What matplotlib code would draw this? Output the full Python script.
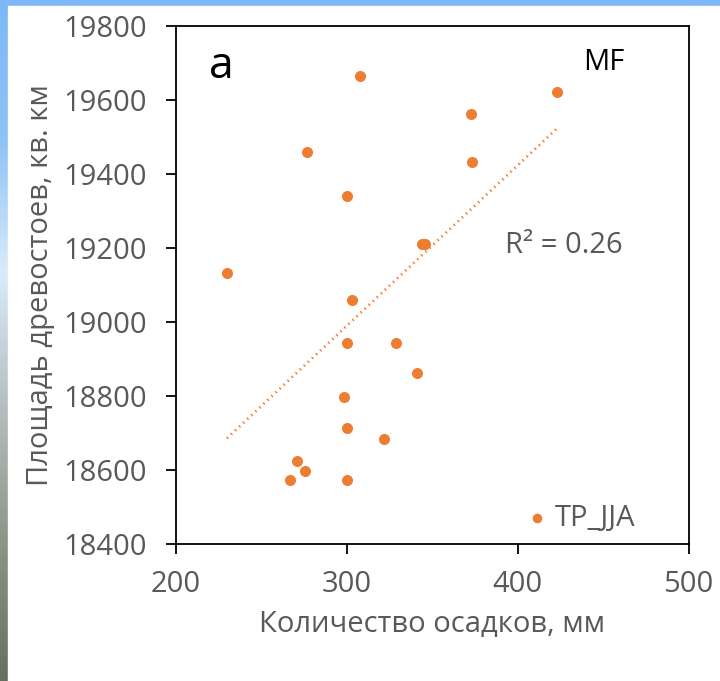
import numpy as np
import matplotlib.pyplot as plt

# Количество осадков (TP_JJA), мм
precip = [307.5, 423, 372.6, 277, 373, 300.4, 343.9, 345.6, 230, 303,
          300, 328.6, 341, 298.6, 300, 322, 271, 275.7, 267, 300]
# Площадь древостоев, кв. км
area = [19665, 19620, 19562, 19460, 19432, 19340, 19210, 19210, 19133, 19060,
        18942, 18942, 18862, 18797, 18713, 18683, 18625, 18596, 18572, 18572]

orange = '#ED7D31'
grey = '#595959'

plt.rcParams['font.family'] = ['Open Sans', 'DejaVu Sans']

fig = plt.figure(figsize=(7.2, 6.81), dpi=100)

# background photo edge (left / top strip)
bg = fig.add_axes([0, 0, 1, 1], zorder=-10)
grad = np.linspace(0, 1, 256).reshape(-1, 1)
cmap = plt.matplotlib.colors.LinearSegmentedColormap.from_list(
    'sky', ['#7db8f8', '#8cc2f6', '#d8ecfa', '#b4bec0', '#8a9684', '#66705e'])
bg.imshow(grad, aspect='auto', cmap=cmap, extent=[0, 1, 0, 1])
bg.set_xlim(0, 1)
bg.set_ylim(0, 1)
bg.add_patch(plt.Rectangle((8 / 720, 0), 1, 1 - 6 / 681, color='white'))
bg.axis('off')

ax = fig.add_axes([0.244, 0.2012, 0.7125, 0.761])
ax.scatter(precip, area, s=48, color=orange, zorder=3, label='TP_JJA')

# линейный тренд
k, b = np.polyfit(precip, area, 1)
xs = np.array([min(precip), max(precip)])
ax.plot(xs, k * xs + b, color=orange, lw=2.0, linestyle=(0, (0.5, 1.5)), zorder=2)

ax.set_xlim(200, 500)
ax.set_ylim(18400, 19800)
ax.set_xticks([200, 300, 400, 500])
ax.set_yticks(np.arange(18400, 19801, 200))

for s in ax.spines.values():
    s.set_linewidth(1.3)
    s.set_color('black')
ax.tick_params(direction='out', length=7, width=1.3, colors='black',
               labelcolor=grey, labelsize=21)
ax.tick_params(axis='y', pad=14)
ax.tick_params(axis='x', pad=12)

ax.set_xlabel('Количество осадков, мм', fontsize=21, color=grey, labelpad=8)
ax.set_ylabel('Площадь древостоев, кв. км', fontsize=21, color=grey, labelpad=6)

ax.text(0.064, 0.92, 'a', transform=ax.transAxes, fontsize=32, color='black',
        ha='left', va='center')
ax.text(0.795, 0.93, 'MF', transform=ax.transAxes, fontsize=21, color='black',
        ha='left', va='center')
ax.text(0.642, 0.576, 'R² = 0.26', transform=ax.transAxes, fontsize=21,
        color=grey, ha='left', va='center')

ax.legend(loc='center right', bbox_to_anchor=(0.924, 0.05), frameon=False,
          fontsize=21, labelcolor=grey, borderpad=0, handlelength=0.6,
          handletextpad=0.3, markerscale=0.85)

fig.savefig('out.png', dpi=100)
